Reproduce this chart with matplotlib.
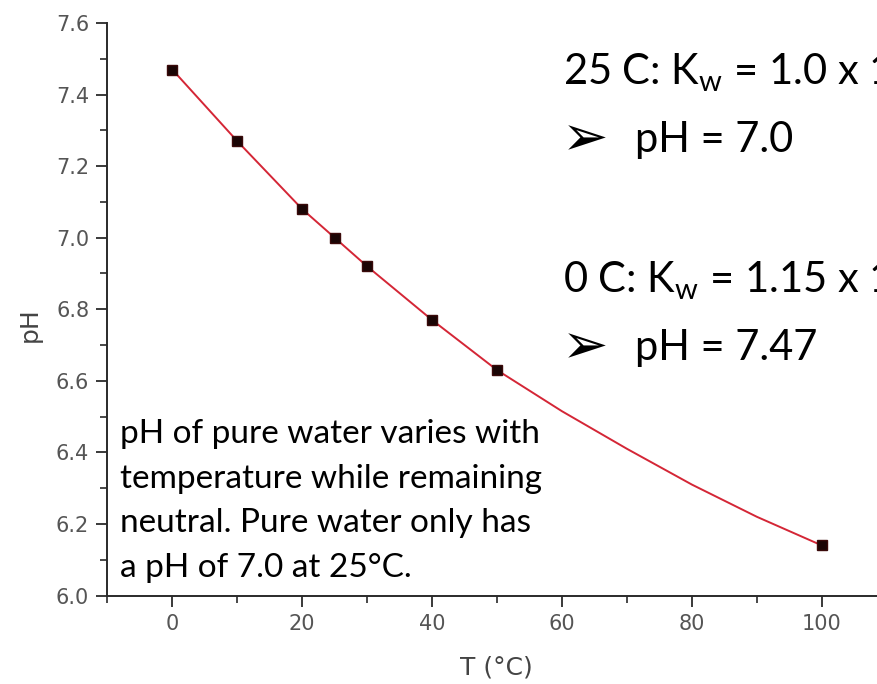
import matplotlib
matplotlib.use("Agg")
import matplotlib.pyplot as plt
from matplotlib.ticker import MultipleLocator

# measured pH of pure water
temps = [0, 10, 20, 25, 30, 40, 50, 100]
ph_vals = [7.47, 7.27, 7.08, 7.00, 6.92, 6.77, 6.63, 6.14]

# fitted curve through the measurements
fit_temps = [0, 10, 20, 25, 30, 40, 50, 60, 70, 80, 90, 100]
fit_ph = [7.47, 7.27, 7.08, 7.00, 6.92, 6.77, 6.63, 6.515, 6.41, 6.31, 6.22, 6.14]

x_ticks = [0, 20, 40, 60, 80, 100]

W, H = 877, 684
fig = plt.figure(figsize=(W / 100, H / 100), dpi=100)
ax = fig.add_axes([107.3 / W, 1 - 595.5 / H, 1 - 107.3 / W, (595.5 - 23) / H])

ax.plot(fit_temps, fit_ph, color="#d42636", lw=1.4, zorder=2)
ax.plot(temps, ph_vals, ls="none", marker="s", ms=6.5,
        mfc="#1a0505", mec="#3a0a0a", zorder=3)

ax.set_xlim(-10, 108.5)
ax.set_ylim(6.0, 7.6)
ax.set_xticks(x_ticks)
ax.xaxis.set_minor_locator(MultipleLocator(10))
ax.yaxis.set_major_locator(MultipleLocator(0.2))
ax.yaxis.set_minor_locator(MultipleLocator(0.1))
ax.yaxis.set_major_formatter(lambda v, p: f"{v:.1f}")

for side in ("top", "right"):
    ax.spines[side].set_visible(False)
for side in ("left", "bottom"):
    ax.spines[side].set_color("#2a2a2a")
    ax.spines[side].set_linewidth(1.4)

ax.tick_params(which="major", direction="out", length=8, width=1.3,
               color="#2a2a2a", labelsize=15, labelcolor="#555555", pad=5)
ax.tick_params(which="minor", direction="out", length=5, width=1.2,
               color="#2a2a2a")

ax.set_xlabel("T (°C)", fontsize=18, color="#444444")
ax.xaxis.set_label_coords((496 - 107.3) / (W - 107.3), -(668 - 595.5) / 572.5)
ax.xaxis.label.set_va("center")
ax.set_ylabel("pH", fontsize=18, color="#444444")
ax.yaxis.set_label_coords(-(107.3 - 30) / (W - 107.3), (595.5 - 325) / 572.5)
ax.yaxis.label.set_va("center")

fam = ["Lato", "DejaVu Sans"]


def put(x, y, s, size):
    fig.text(x / W, 1 - y / H, s, fontsize=size, family=fam,
             ha="left", va="baseline", color="black")


# note in the lower left
note = ["pH of pure water varies with",
        "temperature while remaining",
        "neutral. Pure water only has",
        "a pH of 7.0 at 25°C."]
for i, line in enumerate(note):
    put(120, 443.3 + i * 44.5, line, 24)

# Kw values at two temperatures
big = 30
put(563, 85, r"25 C: K$_\mathregular{w}$ = 1.0 x 10$^\mathregular{-14}$", big)
put(562, 155, "➢", 40)
put(635, 151.7, "pH = 7.0", big)
put(563, 293, r"0 C: K$_\mathregular{w}$ = 1.15 x 10$^\mathregular{-15}$", big)
put(562, 363, "➢", 40)
put(635, 360, "pH = 7.47", big)

fig.savefig("out.png", dpi=100)
